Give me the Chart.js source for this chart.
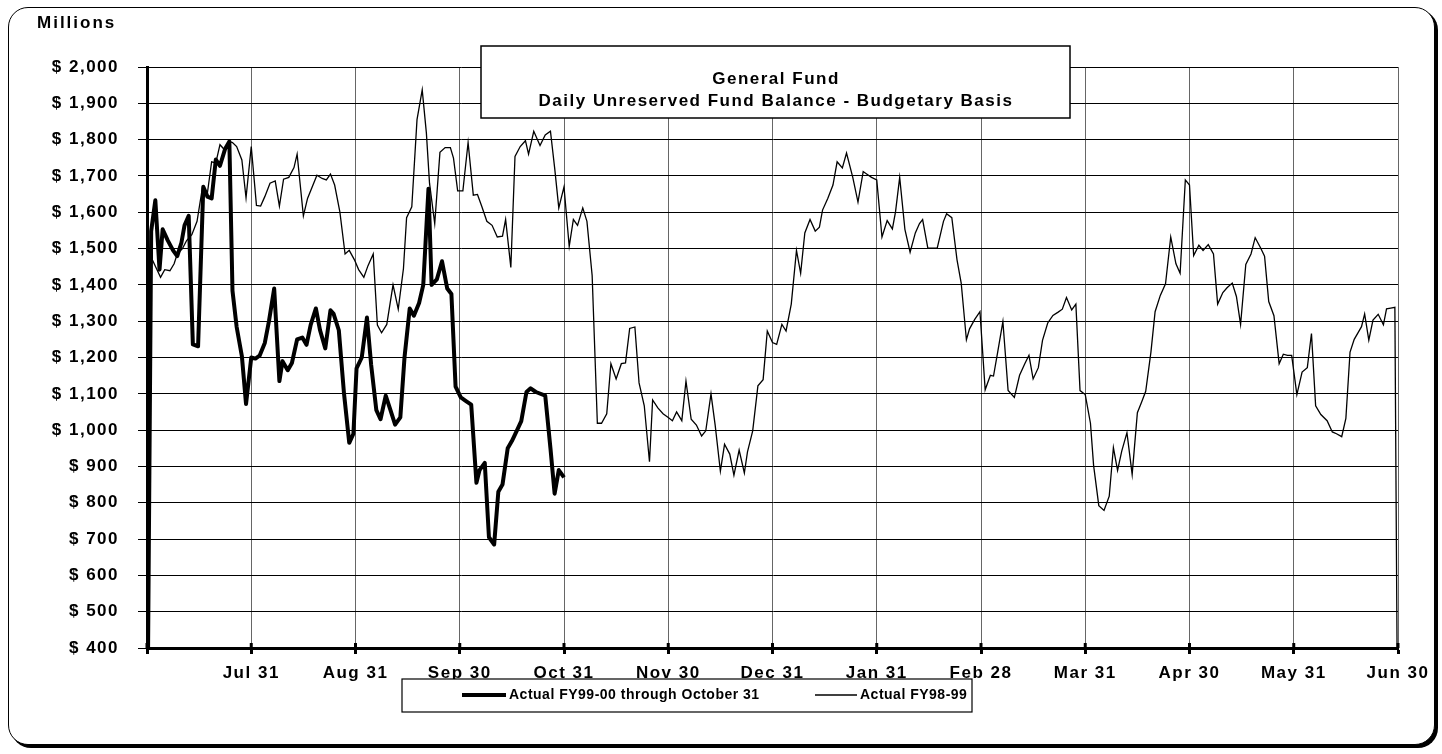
<!DOCTYPE html>
<html>
<head>
<meta charset="utf-8">
<title>General Fund - Daily Unreserved Fund Balance</title>
<script src="https://cdn.jsdelivr.net/npm/chart.js@4"></script>
<style>
  html, body { margin: 0; padding: 0; background: #fff; }
  #frame {
    position: absolute; left: 8px; top: 7px; width: 1425px; height: 736px;
    border: 1px solid #000; border-radius: 20px; box-shadow: 3px 3px 0 #000; background: #fff;
  }
  #wrap { position: absolute; left: 0; top: 0; width: 1442px; height: 754px; }
</style>
</head>
<body>
<div id="frame"></div>
<div id="wrap"><canvas id="chart" width="1442" height="754"></canvas></div>
<script>
// x positions are in fiscal months from Jul 1 (0) to Jun 30 (12)
const monthLabels = ["", "Jul 31", "Aug 31", "Sep 30", "Oct 31", "Nov 30", "Dec 31",
  "Jan 31", "Feb 28", "Mar 31", "Apr 30", "May 31", "Jun 30"];

const titleLines = ["General Fund", "Daily Unreserved Fund Balance - Budgetary Basis"];
const unitLabel = "Millions";

// Actual FY99-00 through October 31 (millions)
const curPos = [0.00,0.04,0.08,0.12,0.15,0.20,0.25,0.29,0.33,0.36,0.40,0.44,0.49,0.54,0.58,0.62,0.66,0.70,0.75,0.79,
  0.82,0.86,0.91,0.95,1.00,1.04,1.08,1.13,1.17,1.22,1.27,1.30,1.35,1.39,1.44,1.49,1.53,1.57,1.62,1.66,
  1.71,1.76,1.79,1.84,1.89,1.94,1.98,2.01,2.06,2.11,2.15,2.20,2.24,2.29,2.33,2.38,2.43,2.47,2.52,2.56,
  2.61,2.65,2.70,2.73,2.78,2.83,2.88,2.92,2.96,3.01,3.06,3.11,3.16,3.19,3.24,3.28,3.33,3.37,3.41,3.46,
  3.50,3.55,3.59,3.64,3.68,3.73,3.82,3.87,3.91,3.95,4.00];
const curVals = [0,1548,1633,1442,1553,1522,1495,1479,1516,1564,1590,1236,1231,1670,1643,1638,1745,1728,1775,1795,
  1384,1284,1204,1072,1200,1197,1205,1240,1300,1390,1135,1190,1165,1185,1250,1255,1235,1290,1335,1275,
  1225,1330,1320,1275,1100,965,990,1170,1200,1310,1180,1055,1030,1095,1060,1015,1035,1200,1335,1315,
  1350,1400,1665,1400,1415,1465,1390,1375,1120,1090,1080,1070,855,890,910,705,685,830,850,950,
  970,1000,1025,1105,1115,1105,1095,950,825,890,870];

// Actual FY98-99 (millions)
const prevPos = [0.03,0.05,0.13,0.17,0.22,0.26,0.29,0.34,0.38,0.43,
  0.48,0.53,0.58,0.62,0.66,0.70,0.75,0.79,0.82,0.86,
  0.91,0.95,1.00,1.05,1.09,1.13,1.18,1.23,1.27,1.31,
  1.36,1.41,1.44,1.50,1.54,1.63,1.68,1.72,1.76,1.80,
  1.85,1.90,1.94,1.99,2.03,2.08,2.12,2.17,2.21,2.25,
  2.30,2.36,2.41,2.46,2.49,2.54,2.59,2.64,2.68,2.71,
  2.76,2.81,2.86,2.91,2.94,2.98,3.03,3.08,3.13,3.17,
  3.21,3.26,3.31,3.36,3.41,3.44,3.49,3.53,3.58,3.63,
  3.66,3.71,3.77,3.82,3.87,3.91,3.95,4.00,4.05,4.09,
  4.13,4.18,4.22,4.27,4.32,4.36,4.41,4.45,4.50,4.55,
  4.59,4.63,4.68,4.72,4.77,4.82,4.85,4.90,4.95,5.00,
  5.04,5.08,5.13,5.17,5.22,5.27,5.32,5.36,5.41,5.45,
  5.50,5.54,5.59,5.63,5.68,5.73,5.76,5.81,5.86,5.91,
  5.95,6.00,6.04,6.09,6.13,6.18,6.23,6.27,6.31,6.36,
  6.41,6.45,6.48,6.53,6.58,6.62,6.67,6.71,6.77,6.82,
  6.87,6.91,6.95,7.00,7.05,7.10,7.15,7.18,7.22,7.27,
  7.32,7.37,7.41,7.44,7.49,7.54,7.58,7.64,7.67,7.72,
  7.77,7.81,7.86,7.89,7.94,7.99,8.04,8.09,8.12,8.16,
  8.21,8.26,8.32,8.37,8.42,8.46,8.50,8.55,8.59,8.64,
  8.69,8.74,8.78,8.82,8.87,8.91,8.95,9.00,9.05,9.08,
  9.13,9.18,9.23,9.27,9.31,9.35,9.40,9.45,9.50,9.54,
  9.58,9.63,9.67,9.72,9.77,9.82,9.87,9.91,9.96,10.00,
  10.04,10.09,10.13,10.18,10.23,10.27,10.32,10.36,10.41,10.45,
  10.49,10.54,10.59,10.63,10.68,10.72,10.76,10.81,10.86,10.90,
  10.94,10.98,11.03,11.08,11.13,11.17,11.21,11.26,11.32,11.37,
  11.41,11.46,11.50,11.54,11.58,11.62,11.65,11.68,11.72,11.76,
  11.81,11.86,11.89,11.93,11.97,12.00];
const prevVals = [1500,1470,1421,1442,1439,1458,1485,1500,1522,1538,
  1575,1665,1654,1739,1736,1786,1770,1795,1792,1781,
  1744,1640,1781,1619,1617,1643,1680,1686,1617,1691,
  1696,1723,1760,1590,1638,1702,1693,1689,1705,1675,
  1601,1485,1495,1469,1442,1421,1453,1485,1289,1268,
  1291,1400,1333,1445,1585,1615,1855,1937,1818,1680,
  1569,1765,1778,1778,1749,1659,1659,1792,1647,1649,
  1617,1575,1564,1532,1534,1580,1448,1754,1781,1797,
  1760,1823,1784,1813,1823,1723,1612,1670,1506,1580,
  1564,1612,1575,1426,1019,1019,1045,1183,1141,1183,
  1185,1280,1284,1130,1067,913,1083,1061,1045,1035,
  1026,1050,1026,1135,1030,1014,984,998,1100,1014,
  887,961,934,876,945,882,940,998,1122,1139,
  1273,1241,1236,1291,1273,1347,1495,1432,1543,1580,
  1548,1559,1606,1638,1675,1739,1722,1763,1696,1628,
  1712,1704,1696,1689,1532,1577,1554,1601,1696,1553,
  1490,1543,1569,1580,1501,1501,1501,1575,1596,1585,
  1469,1405,1249,1279,1305,1326,1111,1151,1149,1215,
  1299,1109,1090,1151,1183,1206,1141,1172,1247,1295,
  1316,1325,1333,1365,1331,1347,1109,1098,1019,903,
  792,779,818,952,889,942,993,878,1048,1077,
  1107,1215,1326,1371,1403,1532,1458,1432,1689,1675,
  1481,1509,1495,1511,1485,1347,1379,1392,1405,1368,
  1291,1456,1485,1530,1503,1479,1354,1315,1183,1209,
  1206,1206,1098,1160,1172,1266,1067,1043,1026,995,
  990,982,1032,1215,1250,1270,1285,1320,1248,1303,
  1319,1290,1334,1336,1338,0];

const FONT = '"Liberation Sans", Arial, Helvetica, sans-serif';

// title box, legend box, unit label and the small tick crosses on the x axis
const extras = {
  id: "extras",
  beforeDraw(chart) {
    chart.ctx.letterSpacing = "1.5px";
  },
  afterDraw(chart) {
    const { ctx, chartArea, scales } = chart;
    ctx.save();
    ctx.strokeStyle = "#000";
    ctx.fillStyle = "#000";

    // tick marks cross the x axis
    ctx.lineWidth = 3;
    monthLabels.forEach((_, i) => {
      const x = scales.x.getPixelForValue(i);
      ctx.beginPath();
      ctx.moveTo(x, chartArea.bottom - 5);
      ctx.lineTo(x, chartArea.bottom);
      ctx.stroke();
    });

    // unit label
    ctx.letterSpacing = "2px";
    ctx.font = "bold 17px " + FONT;
    ctx.textAlign = "left";
    ctx.textBaseline = "middle";
    ctx.fillText(unitLabel, 37, 23);

    // title box
    ctx.fillStyle = "#fff";
    ctx.fillRect(481, 46, 589, 72);
    ctx.lineWidth = 1.5;
    ctx.strokeRect(481, 46, 589, 72);
    ctx.fillStyle = "#000";
    ctx.letterSpacing = "1.5px";
    ctx.font = "bold 17px " + FONT;
    ctx.textAlign = "center";
    ctx.fillText(titleLines[0], 776, 79);
    ctx.fillText(titleLines[1], 776, 101);

    // legend box
    ctx.fillStyle = "#fff";
    ctx.fillRect(402, 679, 570, 33);
    ctx.lineWidth = 1.2;
    ctx.strokeRect(402, 679, 570, 33);
    ctx.fillStyle = "#000";
    ctx.letterSpacing = "0.5px";
    ctx.font = "bold 14px " + FONT;
    ctx.textAlign = "left";
    const entries = [{ x0: 462, x1: 506, tx: 509 }, { x0: 815, x1: 857, tx: 860 }];
    chart.data.datasets.forEach((ds, i) => {
      const e = entries[i];
      ctx.lineWidth = ds.borderWidth;
      ctx.beginPath();
      ctx.moveTo(e.x0, 695);
      ctx.lineTo(e.x1, 695);
      ctx.stroke();
      ctx.fillText(ds.label, e.tx, 695);
    });
    ctx.restore();
  }
};

const tickFont = { family: FONT, size: 17, weight: "bold" };

new Chart(document.getElementById("chart"), {
  type: "line",
  data: {
    datasets: [
      {
        label: "Actual FY99-00 through October 31",
        data: curPos.map((x, i) => ({ x, y: curVals[i] })),
        borderColor: "#000",
        borderWidth: 4,
        borderJoinStyle: "round",
        pointRadius: 0,
        tension: 0,
      },
      {
        label: "Actual FY98-99",
        data: prevPos.map((x, i) => ({ x, y: prevVals[i] })),
        borderColor: "#000",
        borderWidth: 1.3,
        pointRadius: 0,
        tension: 0,
      },
    ],
  },
  options: {
    responsive: false,
    animation: false,
    layout: { padding: { left: 0, right: 44, top: 67, bottom: 66 } },
    plugins: { legend: { display: false }, tooltip: { enabled: false } },
    scales: {
      x: {
        type: "linear",
        min: 0,
        max: 12,
        afterBuildTicks: (s) => { s.ticks = monthLabels.map((_, i) => ({ value: i })); },
        afterFit: (s) => { s.height = 40; },
        ticks: {
          autoSkip: false,
          maxRotation: 0,
          padding: 9,
          color: "#000",
          font: tickFont,
          callback: (v) => monthLabels[v],
        },
        grid: { color: "#666", lineWidth: 1, tickLength: 6, tickColor: "#000", tickWidth: 3 },
        border: { color: "#000", width: 3 },
      },
      y: {
        min: 400,
        max: 2000,
        afterFit: (s) => { s.width = 147; },
        ticks: {
          stepSize: 100,
          padding: 19,
          color: "#000",
          font: tickFont,
          callback: (v) => "$ " + v.toLocaleString("en-US"),
        },
        grid: { color: "#000", lineWidth: 1, tickLength: 9 },
        border: { color: "#000", width: 3 },
      },
    },
  },
  plugins: [extras],
});
</script>
</body>
</html>
